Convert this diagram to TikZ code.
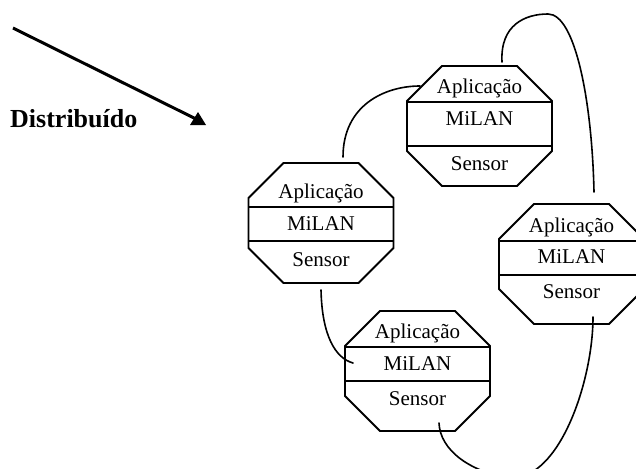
\documentclass[tikz,border=0pt]{standalone}
\usepackage{fontspec}
\setmainfont{Liberation Serif}
\usetikzlibrary{calc}

\tikzset{
  octline/.style={line width=1.8pt, line join=miter},
  link/.style={line width=1.6pt, line cap=round},
  pointer/.style={line width=3pt},
  layer/.style={anchor=base, inner sep=0pt, font=\fontsize{21}{24}\selectfont},
  title/.style={anchor=base west, inner sep=0pt, font=\fontsize{26}{30}\selectfont\bfseries},
}

% #1 name, #2 centre x, #3 top y, #4/#5 divider y, #6/#7/#8 text baselines
\newcommand{\octabox}[8]{%
  \coordinate (#1) at (#2,{#3+60});
  \draw[octline] ({#2-37.5},#3) -- ({#2+37.5},#3) -- ({#2+72.5},{#3+35})
    -- ({#2+72.5},{#3+85}) -- ({#2+37.5},{#3+120}) -- ({#2-37.5},{#3+120})
    -- ({#2-72.5},{#3+85}) -- ({#2-72.5},{#3+35}) -- cycle;
  \draw[octline] ({#2-72.5},#4) -- ({#2+72.5},#4);
  \draw[octline] ({#2-72.5},#5) -- ({#2+72.5},#5);
  \node[layer] (#1-a) at (#2,#6) {Aplicação};
  \node[layer] (#1-m) at (#2,#7) {MiLAN};
  \node[layer] (#1-s) at (#2,#8) {Sensor};
}

\begin{document}
\begin{tikzpicture}[x=1pt, y=-1pt]
  \useasboundingbox (0,0) rectangle (636,468);
  \clip (0,0) rectangle (636,468);
  \fill[white] (0,0) rectangle (636,468);

  % heading and pointer
  \node[title] (dist) at (10,128) {Distribuído};
  \coordinate (ptail) at (13,28);
  \coordinate (phead) at (198,120);
  \draw[pointer] (ptail) -- (phead);
  \fill (phead) ++(-8,5) -- ++(16,0) -- ++(-8,-13) -- cycle;

  % the four nodes
  \octabox{n1}{479.5}{66}{102}{146}{93}{125}{170}
  \octabox{n2}{321}{163}{207}{241}{198}{230}{266}
  \octabox{n3}{571.5}{204}{241}{275}{232}{263}{298}
  \octabox{n4}{417.5}{311}{347}{381}{338}{370}{405}

  % connector ends
  \coordinate (c1a) at (343,157);
  \coordinate (c1b) at (420,86);
  \coordinate (c2a) at (502,62);
  \coordinate (c2m) at (548,14);
  \coordinate (c2b) at (594,192);
  \coordinate (c3a) at (321,290);
  \coordinate (c3b) at (353,363);
  \coordinate (c4a) at (439,423);
  \coordinate (c4m) at (510,478);
  \coordinate (c4b) at (593,317);

  % links between the nodes
  \draw[link] (c1a) .. controls (343,105) and (385,86) .. (c1b);
  \draw[link] (c2a) .. controls (500,25) and (525,14) .. (c2m)
              .. controls (575,14) and (592,100) .. (c2b);
  \draw[link] (c3a) .. controls (322,335) and (335,358) .. (c3b);
  \draw[link] (c4a) .. controls (440,450) and (470,472) .. (c4m)
              .. controls (560,480) and (593,380) .. (c4b);
\end{tikzpicture}
\end{document}
